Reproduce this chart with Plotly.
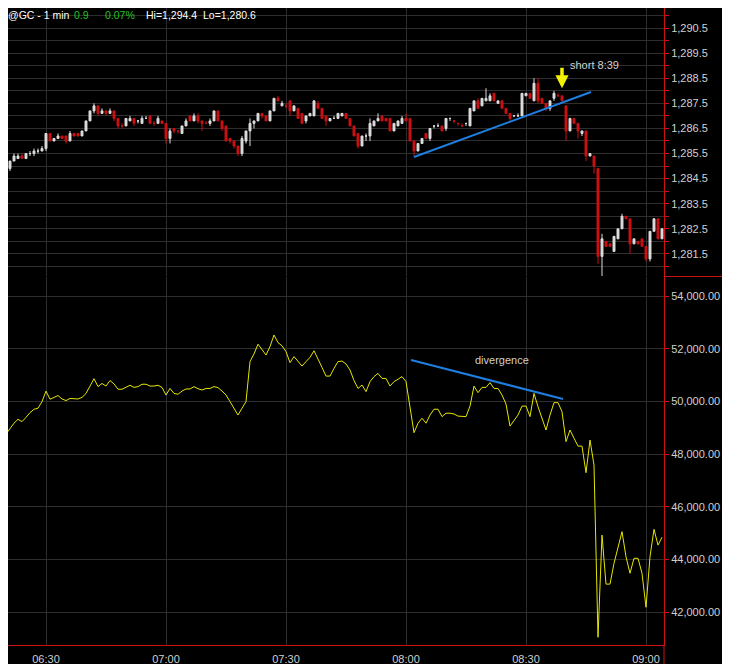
import pandas as pd
import plotly.graph_objects as go
from plotly.subplots import make_subplots

# 1-minute gold futures bars, 06:20 - 09:04
times = pd.date_range("2014-05-21 06:20", periods=165, freq="min")

opens = [
    1285.2, 1284.9, 1285.2, 1285.3, 1285.4, 1285.3, 1285.5, 1285.5, 1285.6, 1285.6,
    1285.7, 1286.3, 1286.0, 1286.1, 1286.2, 1286.2, 1286.0, 1286.3, 1286.3, 1286.2,
    1286.4, 1286.8, 1287.2, 1287.4, 1287.1, 1287.2, 1287.1, 1287.2, 1286.9, 1286.6,
    1286.6, 1286.8, 1286.9, 1286.8, 1286.7, 1286.9, 1287.0, 1286.7, 1286.7, 1286.8,
    1286.7, 1286.1, 1286.5, 1286.4, 1286.3, 1286.6, 1287.0, 1286.8, 1287.0, 1286.8,
    1286.7, 1286.7, 1286.8, 1287.2, 1286.8, 1286.6, 1286.1, 1286.0, 1285.8, 1285.5,
    1286.0, 1286.4, 1286.7, 1286.8, 1287.1, 1287.0, 1286.8, 1287.2, 1287.7, 1287.4,
    1287.4, 1287.6, 1287.2, 1287.3, 1287.1, 1286.8, 1287.0, 1287.0, 1287.5, 1287.3,
    1287.0, 1286.8, 1286.9, 1286.9, 1287.0, 1287.1, 1286.9, 1286.6, 1286.3, 1285.8,
    1286.2, 1286.2, 1286.6, 1286.8, 1287.0, 1286.9, 1286.9, 1286.4, 1286.6, 1286.7,
    1286.9, 1286.9, 1286.0, 1285.6, 1285.9, 1286.3, 1286.1, 1286.6, 1286.6, 1286.6,
    1286.5, 1286.9, 1286.8, 1286.7, 1286.6, 1286.7, 1286.6, 1287.2, 1287.6, 1287.4,
    1287.6, 1287.6, 1287.9, 1287.5, 1287.6, 1287.3, 1287.1, 1287.0, 1287.0, 1287.0,
    1287.8, 1287.9, 1287.6, 1288.3, 1287.7, 1287.5, 1287.3, 1287.7, 1287.8, 1287.8,
    1287.4, 1286.4, 1286.9, 1286.7, 1286.3, 1286.4, 1285.4, 1285.4, 1284.9, 1281.4,
    1282.0, 1281.9, 1281.6, 1282.1, 1282.5, 1283.0, 1282.9, 1281.9, 1282.0, 1282.1,
    1281.8, 1281.3, 1282.4, 1282.9, 1282.1,
]
highs = [
    1285.3, 1285.2, 1285.5, 1285.5, 1285.5, 1285.5, 1285.6, 1285.7, 1285.7, 1285.8,
    1286.3, 1286.3, 1286.1, 1286.3, 1286.2, 1286.2, 1286.4, 1286.3, 1286.3, 1286.4,
    1286.8, 1287.2, 1287.5, 1287.4, 1287.3, 1287.2, 1287.3, 1287.2, 1286.9, 1286.7,
    1286.9, 1287.0, 1286.9, 1286.8, 1287.0, 1287.0, 1287.0, 1286.8, 1287.0, 1286.8,
    1286.7, 1286.5, 1286.5, 1286.4, 1286.6, 1286.9, 1287.0, 1287.1, 1287.1, 1286.8,
    1286.8, 1286.9, 1287.2, 1287.2, 1286.8, 1286.6, 1286.1, 1286.0, 1285.8, 1286.2,
    1286.4, 1286.9, 1286.8, 1287.1, 1287.1, 1287.0, 1287.2, 1287.7, 1287.8, 1287.6,
    1287.5, 1287.6, 1287.4, 1287.3, 1287.1, 1287.0, 1287.1, 1287.6, 1287.6, 1287.3,
    1287.0, 1286.9, 1287.0, 1287.1, 1287.1, 1287.1, 1286.9, 1286.6, 1286.3, 1286.2,
    1286.3, 1286.9, 1286.8, 1287.1, 1287.0, 1286.9, 1286.9, 1286.7, 1286.8, 1287.0,
    1287.1, 1286.9, 1286.0, 1285.9, 1286.1, 1286.3, 1286.5, 1286.6, 1286.7, 1286.6,
    1286.9, 1286.9, 1286.8, 1286.7, 1286.7, 1286.7, 1287.3, 1287.6, 1287.7, 1287.7,
    1288.1, 1287.9, 1287.9, 1287.6, 1287.6, 1287.3, 1287.1, 1287.0, 1287.1, 1287.9,
    1287.9, 1287.9, 1288.5, 1288.5, 1287.7, 1287.5, 1287.6, 1288.0, 1287.9, 1287.8,
    1287.4, 1286.9, 1286.9, 1286.7, 1286.4, 1286.4, 1285.5, 1285.4, 1284.9, 1282.3,
    1282.0, 1281.9, 1282.2, 1282.5, 1283.1, 1283.0, 1282.9, 1282.1, 1282.0, 1282.1,
    1281.8, 1282.4, 1282.9, 1282.9, 1282.5,
]
lows = [
    1284.8, 1284.8, 1285.2, 1285.3, 1285.3, 1285.3, 1285.4, 1285.4, 1285.5, 1285.6,
    1285.6, 1286.0, 1286.0, 1286.1, 1286.1, 1285.9, 1286.0, 1286.2, 1286.2, 1286.2,
    1286.4, 1286.8, 1287.1, 1287.0, 1287.1, 1287.0, 1287.1, 1286.8, 1286.5, 1286.5,
    1286.6, 1286.8, 1286.6, 1286.7, 1286.7, 1286.9, 1286.7, 1286.6, 1286.7, 1286.7,
    1285.9, 1285.9, 1286.3, 1286.3, 1286.3, 1286.6, 1286.8, 1286.8, 1286.7, 1286.4,
    1286.7, 1286.6, 1286.8, 1286.8, 1286.4, 1286.0, 1285.9, 1285.7, 1285.4, 1285.4,
    1285.9, 1285.8, 1286.5, 1286.8, 1286.9, 1286.8, 1286.8, 1287.2, 1287.6, 1287.4,
    1287.3, 1287.0, 1287.2, 1286.9, 1286.7, 1286.7, 1287.0, 1287.0, 1287.3, 1286.9,
    1286.6, 1286.8, 1286.9, 1286.9, 1287.0, 1286.9, 1286.6, 1286.2, 1285.7, 1285.8,
    1286.0, 1286.0, 1286.6, 1286.8, 1286.8, 1286.8, 1286.4, 1286.4, 1286.6, 1286.7,
    1286.8, 1286.0, 1285.4, 1285.6, 1285.9, 1286.1, 1286.0, 1286.5, 1286.6, 1286.4,
    1286.4, 1286.8, 1286.7, 1286.6, 1286.6, 1286.6, 1286.6, 1287.2, 1287.3, 1287.4,
    1287.6, 1287.6, 1287.6, 1287.5, 1287.3, 1287.1, 1286.8, 1287.0, 1287.0, 1287.0,
    1287.8, 1287.7, 1287.6, 1287.5, 1287.5, 1287.2, 1287.2, 1287.6, 1287.8, 1287.6,
    1286.0, 1286.4, 1286.7, 1286.1, 1286.2, 1285.2, 1285.4, 1284.7, 1281.1, 1280.6,
    1281.8, 1281.8, 1281.6, 1282.1, 1282.5, 1282.9, 1281.5, 1281.9, 1281.9, 1281.8,
    1281.2, 1281.2, 1282.4, 1282.1, 1282.1,
]
closes = [
    1284.9, 1285.2, 1285.4, 1285.4, 1285.3, 1285.5, 1285.5, 1285.6, 1285.6, 1285.7,
    1286.3, 1286.0, 1286.1, 1286.2, 1286.1, 1286.0, 1286.3, 1286.2, 1286.2, 1286.4,
    1286.8, 1287.2, 1287.4, 1287.1, 1287.2, 1287.1, 1287.2, 1286.9, 1286.6, 1286.6,
    1286.9, 1286.9, 1286.7, 1286.8, 1286.9, 1286.9, 1286.7, 1286.7, 1286.9, 1286.7,
    1286.1, 1286.4, 1286.4, 1286.4, 1286.6, 1286.8, 1286.8, 1287.0, 1286.8, 1286.7,
    1286.7, 1286.8, 1287.2, 1286.8, 1286.5, 1286.0, 1286.0, 1285.8, 1285.5, 1286.1,
    1286.4, 1286.7, 1286.8, 1287.1, 1287.0, 1286.8, 1287.2, 1287.7, 1287.6, 1287.5,
    1287.4, 1287.2, 1287.4, 1286.9, 1286.7, 1287.0, 1287.1, 1287.6, 1287.3, 1286.9,
    1286.8, 1286.9, 1286.9, 1287.1, 1287.1, 1286.9, 1286.6, 1286.2, 1285.8, 1286.2,
    1286.2, 1286.7, 1286.8, 1286.9, 1286.8, 1286.8, 1286.4, 1286.7, 1286.8, 1286.9,
    1286.8, 1286.0, 1285.6, 1285.9, 1286.1, 1286.1, 1286.5, 1286.6, 1286.6, 1286.4,
    1286.9, 1286.9, 1286.8, 1286.7, 1286.6, 1286.7, 1287.3, 1287.6, 1287.3, 1287.7,
    1287.7, 1287.8, 1287.6, 1287.6, 1287.3, 1287.1, 1286.9, 1287.0, 1287.0, 1287.9,
    1287.9, 1287.7, 1288.3, 1287.6, 1287.5, 1287.3, 1287.6, 1287.9, 1287.8, 1287.6,
    1286.4, 1286.9, 1286.7, 1286.4, 1286.4, 1285.4, 1285.5, 1285.0, 1281.4, 1282.1,
    1281.8, 1281.8, 1282.2, 1282.5, 1283.0, 1282.9, 1281.9, 1282.1, 1281.9, 1281.8,
    1281.3, 1282.4, 1282.9, 1282.1, 1282.5,
]

# lower panel indicator (one value per bar)
indicator = [
    48760, 48980, 49170, 49320, 49230, 49390, 49570, 49700, 49740, 49990,
    50390, 50080, 50150, 50220, 50090, 50030, 50110, 50090, 50090, 50150,
    50300, 50580, 50860, 50560, 50680, 50580, 50790, 50660, 50460, 50460,
    50530, 50610, 50530, 50560, 50650, 50650, 50580, 50580, 50610, 50530,
    50240, 50490, 50300, 50270, 50390, 50470, 50470, 50560, 50480, 50430,
    50490, 50490, 50560, 50520, 50390, 50240, 49990, 49740, 49480, 49740,
    49990, 51510, 51800, 52170, 51980, 51760, 52080, 52520, 52230, 52110,
    51890, 51470, 51700, 51530, 51340, 51510, 51670, 51920, 51570, 51290,
    50960, 50960, 51250, 51510, 51530, 51420, 51190, 50790, 50490, 50620,
    50370, 50750, 50940, 51060, 50870, 50870, 50580, 50750, 50840, 50940,
    50750, 49800, 48810, 49170, 49360, 49170, 49480, 49700, 49700, 49420,
    49550, 49550, 49520, 49440, 49420, 49420, 49820, 50580, 50330, 50530,
    50530, 50710, 50490, 50490, 50240, 49900, 49060, 49290, 49480, 49820,
    49820, 49420, 50300, 49800, 49360, 48910, 49480, 49950, 49950, 49610,
    48470, 48910, 48600, 48300, 48300, 47290, 48530, 47580, 41040, 44920,
    43060, 43060, 43850, 44420, 45050, 44100, 43470, 44040, 44040, 43470,
    42180, 44100, 45140, 44540, 44840,
]

# hand-drawn trend lines (time, value)
price_trend_t = ["2014-05-21 08:02:00", "2014-05-21 08:46:15"]
price_trend_v = [1285.36, 1287.95]
ind_trend_t = ["2014-05-21 08:01:15", "2014-05-21 08:39:15"]
ind_trend_v = [51570, 50090]

GRID = "#2e2e2e"
AXIS = "#d01010"
TXT = "#d0d0d0"
FONT = "Liberation Sans, Arial, sans-serif"

fig = make_subplots(rows=2, cols=1, shared_xaxes=True, vertical_spacing=0)

fig.add_trace(
    go.Candlestick(
        x=times, open=opens, high=highs, low=lows, close=closes,
        increasing=dict(line=dict(color="#dcdcdc", width=1), fillcolor="#dcdcdc"),
        decreasing=dict(line=dict(color="#cc1014", width=1), fillcolor="#cc1014"),
        whiskerwidth=0,
    ),
    row=1, col=1,
)
fig.add_trace(
    go.Scatter(x=times, y=indicator, mode="lines",
               line=dict(color="#e6e600", width=1)),
    row=2, col=1,
)

# trend lines
fig.add_trace(go.Scatter(x=price_trend_t, y=price_trend_v, mode="lines",
                         line=dict(color="#1f7fe0", width=2)), row=1, col=1)
fig.add_trace(go.Scatter(x=ind_trend_t, y=ind_trend_v, mode="lines",
                         line=dict(color="#1f7fe0", width=2)), row=2, col=1)

x_range = ["2014-05-21 06:20:30", "2014-05-21 09:04:30"]
xgrid = dict(
    range=x_range, showgrid=True, gridcolor=GRID, gridwidth=1,
    tick0="2014-05-21 06:30", dtick=30 * 60 * 1000, tickformat="%H:%M",
    zeroline=False,
)
fig.update_xaxes(**xgrid, row=1, col=1, showticklabels=False,
                 rangeslider=dict(visible=False))
fig.update_xaxes(**xgrid, row=2, col=1, showline=True, linecolor=AXIS,
                 ticks="outside", ticklen=4, tickcolor="black",
                 tickfont=dict(color=TXT, size=11, family=FONT))

fig.update_yaxes(
    row=1, col=1, side="right", range=[1280.62, 1291.30], domain=[0.5793, 1],
    tick0=0.5, dtick=1, tickformat=",.1f", showgrid=True, gridcolor=GRID,
    showline=True, linecolor=AXIS, ticks="outside", tickcolor=AXIS, ticklen=4,
    minor=dict(dtick=0.5, tick0=0, showgrid=True, gridcolor=GRID,
               ticks="outside", tickcolor=AXIS, ticklen=4),
    tickfont=dict(color=TXT, size=11, family=FONT), zeroline=False,
)
fig.update_yaxes(
    row=2, col=1, side="right", range=[40747, 54722], domain=[0, 0.5777],
    tick0=0, dtick=2000, tickformat=",.2f", showgrid=True, gridcolor=GRID,
    showline=True, linecolor=AXIS, ticks="outside", tickcolor=AXIS, ticklen=4,
    tickfont=dict(color=TXT, size=11, family=FONT), zeroline=False,
)

# header line
header = [
    ("@GC - 1 min", "#ffffff", -0.0015),
    ("0.9", "#22c422", 0.0991),
    ("0.07%", "#22c422", 0.1463),
    ("Hi=1,294.4", "#ffffff", 0.2088),
    ("Lo=1,280.6", "#ffffff", 0.2957),
]
for text, color, xpos in header:
    fig.add_annotation(text=text, xref="paper", yref="paper", x=xpos, y=0.989,
                       xanchor="left", yanchor="middle", showarrow=False,
                       borderpad=0, font=dict(color=color, size=10.5, family=FONT))

fig.add_annotation(text="short 8:39", x="2014-05-21 08:40:30", y=1289.03,
                   xref="x", yref="y", xanchor="left", yanchor="middle",
                   showarrow=False, font=dict(color=TXT, size=11, family=FONT))
fig.add_annotation(text="", x="2014-05-21 08:39", y=1288.1, xref="x", yref="y",
                   showarrow=True, ax=0, ay=-22, arrowhead=2, arrowsize=0.75,
                   arrowwidth=3.5, arrowcolor="#f2f200")
fig.add_annotation(text="divergence", x="2014-05-21 08:24", y=51570,
                   xref="x2", yref="y2", showarrow=False,
                   font=dict(color=TXT, size=11, family=FONT))

# axis separator between panels, axis line into the time band, window edge
fig.add_shape(type="line", xref="paper", yref="paper", x0=1, x1=1.09,
              y0=0.5785, y1=0.5785, line=dict(color=AXIS, width=1))
fig.add_shape(type="line", xref="paper", yref="paper", x0=1, x1=1,
              y0=-0.05, y1=0, line=dict(color=AXIS, width=1))
fig.add_shape(type="rect", xref="paper", yref="paper", x0=1.09, x1=1.12,
              y0=-0.05, y1=1.05, fillcolor="#bcd2ea", line=dict(width=0))

fig.update_layout(
    width=722, height=656,
    margin=dict(l=0, r=66, t=0, b=19),
    paper_bgcolor="black", plot_bgcolor="black",
    showlegend=False, font=dict(family=FONT, color=TXT),
)

fig.write_html("out.html")
